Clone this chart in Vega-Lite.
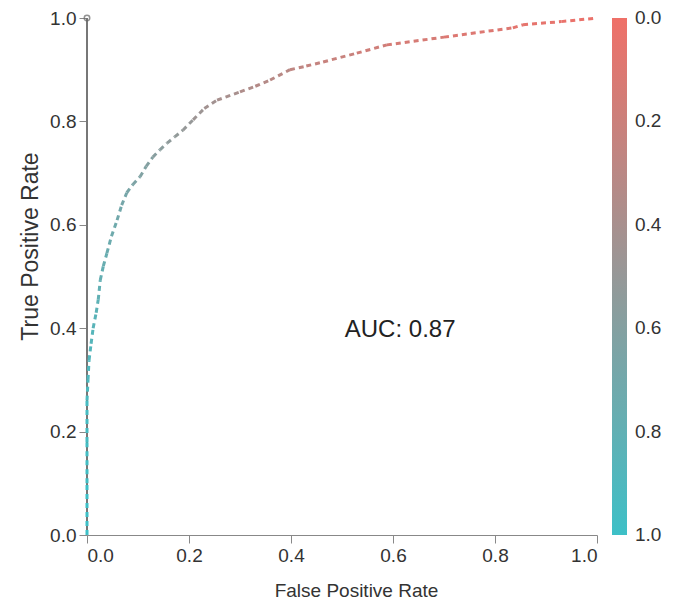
{
  "$schema": "https://vega.github.io/schema/vega-lite/v6.json",
  "width": 510,
  "height": 517,
  "autosize": {"type": "none"},
  "padding": {"left": 87, "top": 18, "right": 82, "bottom": 66},
  "config": {
    "view": {"stroke": null},
    "font": "Liberation Sans",
    "axis": {"labelFontSize": 19, "titleFontSize": 19, "titleFontWeight": "normal", "labelColor": "#333", "titleColor": "#333", "tickColor": "#888", "domainColor": "#888", "grid": false, "tickSize": 8, "labelPadding": 3},
    "legend": {"labelFontSize": 19, "labelColor": "#333"}
  },
  "datasets": {
    "roc": [
      {"fpr": 0.0, "tpr": 0.0, "threshold": 1.0},
      {"fpr": 0.0, "tpr": 0.1, "threshold": 0.97},
      {"fpr": 0.0, "tpr": 0.18, "threshold": 0.95},
      {"fpr": 0.0, "tpr": 0.26, "threshold": 0.92},
      {"fpr": 0.002, "tpr": 0.3, "threshold": 0.9},
      {"fpr": 0.004, "tpr": 0.338, "threshold": 0.88},
      {"fpr": 0.008, "tpr": 0.37, "threshold": 0.86},
      {"fpr": 0.012, "tpr": 0.40, "threshold": 0.84},
      {"fpr": 0.018, "tpr": 0.43, "threshold": 0.82},
      {"fpr": 0.022, "tpr": 0.455, "threshold": 0.8},
      {"fpr": 0.026, "tpr": 0.493, "threshold": 0.78},
      {"fpr": 0.032, "tpr": 0.52, "threshold": 0.76},
      {"fpr": 0.039, "tpr": 0.545, "threshold": 0.74},
      {"fpr": 0.048, "tpr": 0.578, "threshold": 0.72},
      {"fpr": 0.059, "tpr": 0.609, "threshold": 0.7},
      {"fpr": 0.068, "tpr": 0.638, "threshold": 0.68},
      {"fpr": 0.078, "tpr": 0.662, "threshold": 0.66},
      {"fpr": 0.09, "tpr": 0.678, "threshold": 0.64},
      {"fpr": 0.104, "tpr": 0.693, "threshold": 0.62},
      {"fpr": 0.116, "tpr": 0.713, "threshold": 0.6},
      {"fpr": 0.129, "tpr": 0.731, "threshold": 0.58},
      {"fpr": 0.143, "tpr": 0.745, "threshold": 0.56},
      {"fpr": 0.157, "tpr": 0.758, "threshold": 0.54},
      {"fpr": 0.172, "tpr": 0.77, "threshold": 0.52},
      {"fpr": 0.188, "tpr": 0.783, "threshold": 0.5},
      {"fpr": 0.208, "tpr": 0.803, "threshold": 0.46},
      {"fpr": 0.23, "tpr": 0.825, "threshold": 0.43},
      {"fpr": 0.255, "tpr": 0.841, "threshold": 0.4},
      {"fpr": 0.30, "tpr": 0.857, "threshold": 0.36},
      {"fpr": 0.33, "tpr": 0.868, "threshold": 0.33},
      {"fpr": 0.359, "tpr": 0.88, "threshold": 0.31},
      {"fpr": 0.398, "tpr": 0.90, "threshold": 0.27},
      {"fpr": 0.43, "tpr": 0.907, "threshold": 0.24},
      {"fpr": 0.463, "tpr": 0.915, "threshold": 0.22},
      {"fpr": 0.529, "tpr": 0.932, "threshold": 0.18},
      {"fpr": 0.588, "tpr": 0.948, "threshold": 0.14},
      {"fpr": 0.70, "tpr": 0.963, "threshold": 0.1},
      {"fpr": 0.835, "tpr": 0.981, "threshold": 0.06},
      {"fpr": 0.855, "tpr": 0.987, "threshold": 0.05},
      {"fpr": 0.93, "tpr": 0.993, "threshold": 0.03},
      {"fpr": 1.0, "tpr": 1.0, "threshold": 0.0}
    ],
    "axisline": [
      {"x": 0, "y": 0, "y2": 1}
    ],
    "auc": [
      {"x": 0.614, "y": 0.397, "label": "AUC: 0.87"}
    ]
  },
  "layer": [
    {
      "data": {"name": "axisline"},
      "mark": {"type": "rule", "color": "#777", "strokeWidth": 2},
      "encoding": {
        "x": {"field": "x", "type": "quantitative", "scale": {"domain": [0, 1]}, "axis": {"title": "False Positive Rate", "tickCount": 5, "format": ".1f", "titlePadding": 16, "titleX": 269}},
        "y": {"field": "y", "type": "quantitative", "scale": {"domain": [0, 1]}, "axis": {"title": "True Positive Rate", "titleFontSize": 23, "tickCount": 5, "format": ".1f", "titleX": -45, "titleY": 228}},
        "y2": {"field": "y2"}
      }
    },
    {
      "data": {"name": "axisline"},
      "mark": {"type": "point", "color": "#666", "size": 30, "strokeWidth": 1.5, "filled": false},
      "encoding": {
        "x": {"field": "x", "type": "quantitative"},
        "y": {"field": "y2", "type": "quantitative"}
      }
    },
    {
      "data": {"name": "roc"},
      "transform": [
        {"window": [{"op": "lead", "field": "fpr", "as": "fpr2"}, {"op": "lead", "field": "tpr", "as": "tpr2"}], "sort": [{"field": "threshold", "order": "descending"}]},
        {"filter": "datum.fpr2 != null"}
      ],
      "mark": {"type": "rule", "strokeWidth": 3, "strokeDash": [5, 4]},
      "encoding": {
        "x": {"field": "fpr", "type": "quantitative"},
        "y": {"field": "tpr", "type": "quantitative"},
        "x2": {"field": "fpr2"},
        "y2": {"field": "tpr2"},
        "color": {
          "field": "threshold",
          "type": "quantitative",
          "scale": {"domain": [1, 0], "range": ["#3dc0c7", "#ef7068"], "interpolate": "rgb"},
          "legend": {"title": null, "gradientLength": 517, "gradientThickness": 15, "tickCount": 5, "format": ".1f", "offset": 15, "gradientStrokeWidth": 0, "labelOffset": 8, "labelOverlap": false,
            "encode": {"labels": {"update": {"baseline": {"value": "middle"}}}}}
        }
      }
    },
    {
      "data": {"name": "auc"},
      "mark": {"type": "text", "fontSize": 24, "color": "#222", "align": "center", "baseline": "middle"},
      "encoding": {
        "x": {"field": "x", "type": "quantitative"},
        "y": {"field": "y", "type": "quantitative"},
        "text": {"field": "label"}
      }
    }
  ]
}
